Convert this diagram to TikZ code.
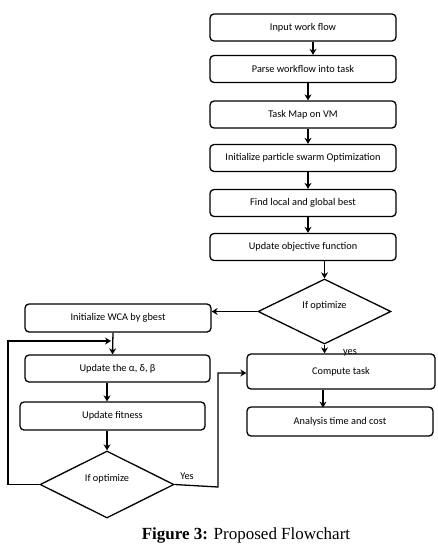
\documentclass[tikz,border=0pt]{standalone}
\usepackage{fontspec}
\setmainfont{Liberation Serif}
\newfontfamily\boxfont{Carlito}
\usetikzlibrary{shapes.geometric,arrows.meta}
\begin{document}
\begin{tikzpicture}[x=1pt,y=-1pt,
  procbox/.style={draw,line width=1.3pt,rounded corners=4pt,fill=white,
    minimum width=186pt,minimum height=27pt,inner sep=0pt,font=\boxfont\fontsize{10.3}{11}\selectfont},
  decbox/.style={draw,line width=1.3pt,diamond,aspect=2,inner sep=0pt},
  lbl/.style={font=\boxfont\fontsize{10.3}{11}\selectfont,inner sep=0pt},
  conn/.style={line width=1.3pt},
  arr/.style={conn,-{Stealth[length=6pt,width=7pt]}}]
\useasboundingbox (0,0) rectangle (438,544);
% main column
\node[procbox] (b1) at (303,27.5) {Input work flow};
\node[procbox] (b2) at (303,69) {Parse workflow into task};
\node[procbox] (b3) at (303,114.5) {Task Map on VM};
\node[procbox] (b4) at (303,158) {Initialize particle swarm Optimization};
\node[procbox] (b5) at (303,203) {Find local and global best};
\node[procbox] (b6) at (303,247) {Update objective function};
\node[decbox,minimum width=133pt,minimum height=65pt] (d1) at (324.5,311.5) {};
\node[lbl] (t1) at (324.5,306) {If optimize};
\node[procbox,minimum width=188pt,minimum height=35pt] (c1) at (341,371.5) {Compute task};
\node[procbox,minimum height=29pt] (a1) at (340,421.5) {Analysis time and cost};
% left column
\node[procbox,minimum height=28pt] (w1) at (118,318) {Initialize WCA by gbest};
\node[procbox,minimum width=185pt] (u1) at (117.5,368.5) {Update the α, δ, β};
\node[procbox,minimum width=185pt,minimum height=28pt] (u2) at (112.5,416) {Update fitness};
\node[decbox,minimum width=134pt,minimum height=67pt] (d2) at (107,484.5) {};
\node[lbl] (t2) at (107,479) {If optimize};
% labels
\node[lbl] (yes1) at (350,353) {yes};
\node[lbl] (yes2) at (187,476) {Yes};
\node[inner sep=0pt,anchor=base,font=\fontsize{17}{19}\selectfont] (cap) at (246,539) {\textbf{Figure 3:} Proposed Flowchart};
% coordinates
\coordinate (lp1) at (8,484.5);
\coordinate (lp2) at (8,341);
\coordinate (lp3) at (111,341);
\coordinate (yp1) at (218,487);
\coordinate (yp2) at (218,373);
% connectors
\draw[arr] ([xshift=10pt]b1.south) -- ([xshift=10pt]b2.north);
\draw[arr] ([xshift=5pt]b2.south) -- ([xshift=5pt]b3.north);
\draw[arr] ([xshift=5pt]b3.south) -- ([xshift=5pt]b4.north);
\draw[arr] ([xshift=5pt]b4.south) -- ([xshift=5pt]b5.north);
\draw[arr] ([xshift=5pt]b5.south) -- ([xshift=5pt]b6.north);
\draw[arr] (b6.south -| d1.north) -- (d1.north);
\draw[arr] (d1.west) -- (d1.west -| w1.east);
\draw[arr] (d1.south) -- (d1.south |- c1.north);
\draw[arr] (c1.south -| a1.south) ++(-17pt,0) -- ++(0,18);
\draw[arr] ([xshift=-5pt]w1.south) -- ([xshift=-5pt]u1.north);
\draw[arr] (u1.south -| d2.north) -- (u2.north -| d2.north);
\draw[arr] (u2.south -| d2.north) -- (d2.north);
\draw[arr] (d2.west) -- (lp1) -- (lp2) -- (lp3);
\draw[arr] (d2.east) -- (yp1) -- (yp2) -- (yp2 -| c1.west);
\end{tikzpicture}
\end{document}
